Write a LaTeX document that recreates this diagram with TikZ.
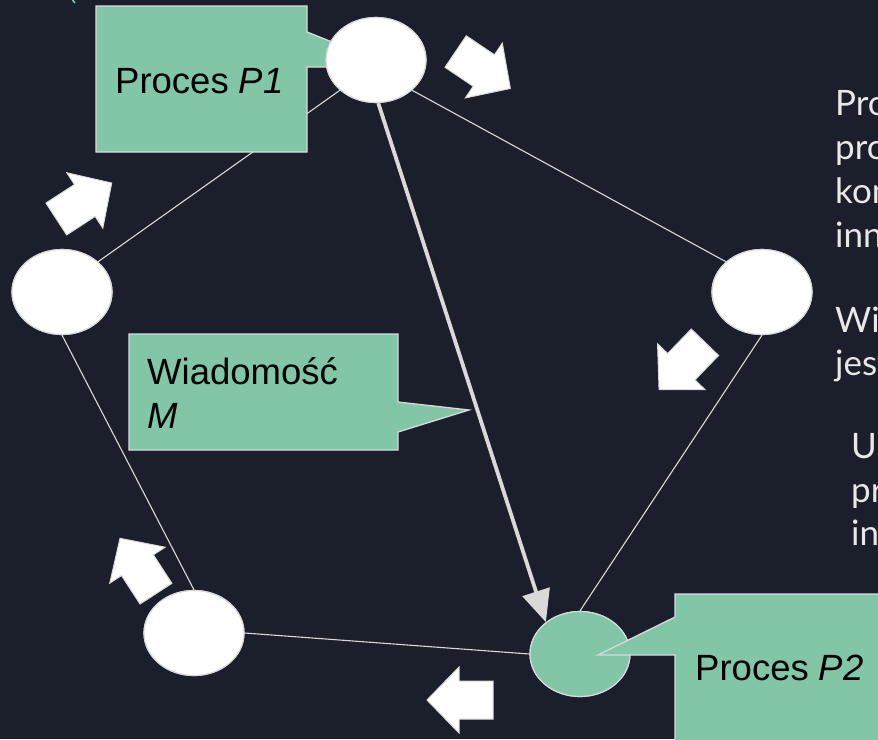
\documentclass[tikz,border=0pt]{standalone}
\usepackage{fontspec}
\setmainfont{Liberation Sans}
\newfontfamily\latofont{Lato}
\usetikzlibrary{arrows.meta,shapes.geometric}
\definecolor{bg}{HTML}{1B1F2B}
\definecolor{mint}{HTML}{81C6A6}
\definecolor{edgegray}{HTML}{D9D9D9}
\definecolor{sidetext}{HTML}{E8E8E8}

\begin{document}
\begin{tikzpicture}[x=1pt,y=-1pt,
  proc/.style={ellipse, minimum width=100pt, minimum height=85pt,
    draw=edgegray, line width=1.2pt, fill=white, inner sep=0pt},
  link/.style={draw=edgegray, line width=1.1pt},
  msg/.style={draw=edgegray, line width=3.8pt,
    -{Triangle[length=32pt,width=28pt]}},
  callout/.style={fill=mint, draw=edgegray, line width=1.3pt, line join=miter},
  lbl/.style={font=\fontsize{36.5}{44}\selectfont, text=black,
    inner sep=0pt, anchor=base west},
  side/.style={font=\latofont\fontsize{35}{44}\selectfont, text=sidetext,
    inner sep=0pt, anchor=base west},
  blockarrow/.pic={
    \draw[fill=white, draw=edgegray, line width=1pt, line join=miter]
      (-33,-19) -- (1,-19) -- (1,-33) -- (33,0) -- (1,33) -- (1,19)
      -- (-33,19) -- cycle;}
]
\useasboundingbox (0,0) rectangle (878,739);
\clip (0,0) rectangle (878,739);
\fill[bg] (0,0) rectangle (878,739);

% small fragment at the top edge
\draw[mint, line width=1.5pt] (71,-2) -- (75,3);

% process nodes (positions first, drawn again on top later)
\path (376,60) node[proc] (p1) {}
      (62,292) node[proc] (l) {}
      (762,292) node[proc] (r) {}
      (194,633) node[proc] (bl) {}
      (580,654) node[proc, fill=mint] (p2) {};

% ring links
\draw[link] (l.40) -- (p1.220);
\draw[link] (p1.-40) -- (r.140);
\draw[link] (l.south) -- (bl.north);
\draw[link] (bl.east) -- (p2.west);
\draw[link] (r.south) -- (p2.north);

% message from P1 to P2
\draw[msg] (p1.-87) -- (p2.137);

% callout for P1
\filldraw[callout] (96,6) -- (307,6) -- (307,32) -- (395,67) -- (307,67)
  -- (307,152) -- (96,152) -- cycle;

% callout for the message
\filldraw[callout] (129,334) -- (398,334) -- (398,402) -- (469,410)
  -- (398,432) -- (398,450) -- (129,450) -- cycle;

% redraw the process ellipses above links and the P1 callout
\node[proc] at (p1) {};
\node[proc] at (l) {};
\node[proc] at (r) {};
\node[proc] at (bl) {};
\node[proc, fill=mint] at (p2) {};

% callout for P2, lying over its ellipse
\filldraw[callout] (675,594) -- (885,594) -- (885,745) -- (675,745)
  -- (675,655) -- (598,655) -- (675,617) -- cycle;

% labels
\node[lbl] (t1) at (115,93) {Proces \textit{P1}};
\node[lbl] (t2) at (147,384) {Wiadomość};
\node[lbl] (t3) at (147,428) {\textit{M}};
\node[lbl] (t4) at (695,680) {Proces \textit{P2}};

% side notes running off the right edge
\node[side] (s1) at (835,115) {Procesy};
\node[side] (s2) at (835,159) {procesów};
\node[side] (s3) at (835,203) {komunikują};
\node[side] (s4) at (835,247) {innymi};
\node[side] (s5) at (835,332) {Wiadomość};
\node[side] (s6) at (835,375) {jest};
\node[side] (s7) at (851,458) {U};
\node[side] (s8) at (851,502) {przez};
\node[side] (s9) at (851,545) {inne};

% direction arrows around the ring
\pic[rotate=-34] at (483,70) {blockarrow};
\pic[rotate=33] at (84,201) {blockarrow};
\pic[rotate=123] at (138,566) {blockarrow};
\pic[rotate=-134] at (682,366) {blockarrow};
\pic[rotate=180] at (460,700) {blockarrow};
\end{tikzpicture}
\end{document}
